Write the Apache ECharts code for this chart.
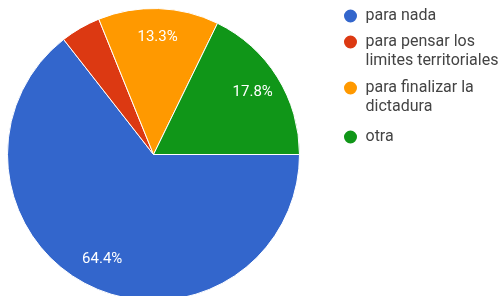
<!DOCTYPE html>
<html>
<head>
<meta charset="utf-8">
<script src="https://cdn.jsdelivr.net/npm/echarts@6/dist/echarts.min.js"></script>
<style>
  html, body { margin: 0; padding: 0; background: #fff; }
  #chart { width: 501px; height: 296px; }
</style>
</head>
<body>
<div id="chart"></div>
<script>
// respuestas (45 en total)
var categories = ['para nada', 'para pensar los limites territoriales', 'para finalizar la dictadura', 'otra'];
var legendLabels = ['para nada', 'para pensar los\nlimites territoriales', 'para finalizar la\ndictadura', 'otra'];
var counts = [29, 2, 6, 8];
var colors = ['#3366cc', '#dc3912', '#ff9900', '#109618'];

var total = counts.reduce(function (a, b) { return a + b; }, 0);

var pieData = categories.map(function (name, i) {
  return { name: name, value: counts[i], itemStyle: { color: colors[i] } };
});

var labelData = categories.map(function (name, i) {
  return {
    name: name,
    value: counts[i],
    label: { show: counts[i] / total >= 0.05 }
  };
});

// one legend per item so the icon lines up with the first text line
var lineH = 19;
var iconCenters = [16, 42, 88, 137];
var legends = categories.map(function (name, i) {
  var nLines = legendLabels[i].split('\n').length;
  // a leading blank line keeps the first real line centred on the icon
  var text = nLines > 1 ? '\n' + legendLabels[i] : legendLabels[i];
  var boxH = (nLines > 1 ? nLines + 1 : 1) * lineH;
  return {
    orient: 'vertical',
    left: 342,
    top: iconCenters[i] - boxH / 2,
    padding: 0,
    icon: 'circle',
    itemWidth: 20,
    itemHeight: 15,
    itemGap: 0,
    selectedMode: false,
    data: [name],
    formatter: function () { return text; },
    textStyle: {
      fontFamily: 'Roboto',
      fontSize: 16,
      color: '#444',
      lineHeight: lineH
    }
  };
});

var chart = echarts.init(document.getElementById('chart'));
chart.setOption({
  animation: false,
  legend: legends,
  series: [
    {
      type: 'pie',
      center: [153.5, 154.5],
      radius: [0, 146],
      startAngle: 0,
      clockwise: true,
      silent: true,
      itemStyle: { borderColor: '#fff', borderWidth: 1 },
      label: { show: false },
      labelLine: { show: false },
      data: pieData
    },
    {
      // transparent ring used only to place the percentage labels
      type: 'pie',
      center: [153.5, 154.5],
      radius: [82, 146],
      startAngle: 0,
      clockwise: true,
      silent: true,
      legendHoverLink: false,
      itemStyle: { color: 'rgba(0,0,0,0)' },
      label: {
        position: 'inside',
        color: '#fff',
        fontFamily: 'Roboto',
        fontSize: 15,
        formatter: function (p) { return (p.value / total * 100).toFixed(1) + '%'; }
      },
      labelLine: { show: false },
      data: labelData
    }
  ]
});
</script>
</body>
</html>
